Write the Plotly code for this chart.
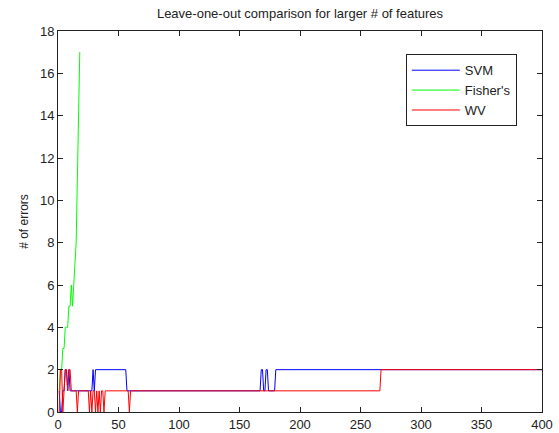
import numpy as np
import plotly.graph_objects as go

# Leave-one-out error counts versus number of features.
# SVM and WV are stored as runs: (error count, number of consecutive feature sizes).
svm_levels = [1, 0, 1, 2, 1, 2, 1, 2, 1, 2, 1, 2, 1, 2, 1, 2]
svm_lengths = [1, 2, 2, 2, 1, 1, 19, 1, 1, 26, 111, 2, 2, 2, 6, 221]

wv_levels = [0, 2, 0, 1, 2, 1, 2, 1, 0, 1, 0, 1, 0, 1, 0, 1, 0, 1, 0, 1, 0, 1, 0, 1, 2]
wv_lengths = [1, 2, 1, 1, 2, 1, 2, 5, 1, 9, 1, 1, 1, 2, 1, 1, 1, 1, 1, 2, 1, 20, 1, 207, 134]

# Fisher's discriminant was only evaluated for the first features.
fisher_features = list(range(1, 19))
fisher_errors = [1, 2, 2, 3, 3, 4, 4, 4, 5, 5, 6, 5, 6, 7, 8, 11, 15, 17]

x_ticks = [0, 50, 100, 150, 200, 250, 300, 350, 400]
y_ticks = [0, 2, 4, 6, 8, 10, 12, 14, 16, 18]

svm_errors = np.repeat(svm_levels, svm_lengths)
wv_errors = np.repeat(wv_levels, wv_lengths)
features = np.arange(1, len(svm_errors) + 1)

fig = go.Figure()
fig.add_trace(go.Scatter(x=features, y=svm_errors, mode="lines", name="SVM",
                         line=dict(color="#0000ff", width=1)))
fig.add_trace(go.Scatter(x=fisher_features, y=fisher_errors, mode="lines", name="Fisher's",
                         line=dict(color="#00ff00", width=1)))
fig.add_trace(go.Scatter(x=np.arange(1, len(wv_errors) + 1), y=wv_errors, mode="lines", name="WV",
                         line=dict(color="#ff0000", width=1)))

font_family = "Liberation Sans, Arial, sans-serif"
text_color = "#222222"
axis_common = dict(
    showline=True, linecolor=text_color, linewidth=1, mirror="ticks",
    ticks="inside", ticklen=5, tickcolor=text_color, showgrid=False, zeroline=False,
    tickfont=dict(family=font_family, size=13, color=text_color),
    automargin=False,
)

fig.update_layout(
    width=559, height=433,
    margin=dict(l=58, r=17, t=31, b=21),
    paper_bgcolor="white", plot_bgcolor="white",
    title=dict(text="Leave-one-out comparison for larger # of features",
               x=0.5, xref="paper", xanchor="center", y=1 - 13 / 433, yanchor="middle",
               font=dict(family=font_family, size=13, color=text_color)),
    xaxis=dict(range=[0, 400], tickvals=x_ticks, **axis_common),
    yaxis=dict(range=[0, 18], tickvals=y_ticks,
               title=dict(text="# of errors", standoff=8,
                          font=dict(family=font_family, size=12, color=text_color)),
               **axis_common),
    legend=dict(x=0.948, y=0.939, xanchor="right", yanchor="top",
                bgcolor="white", bordercolor=text_color, borderwidth=1,
                font=dict(family=font_family, size=13, color=text_color),
                itemwidth=48, tracegroupgap=0),
    showlegend=True,
)

fig.write_html("out.html")
